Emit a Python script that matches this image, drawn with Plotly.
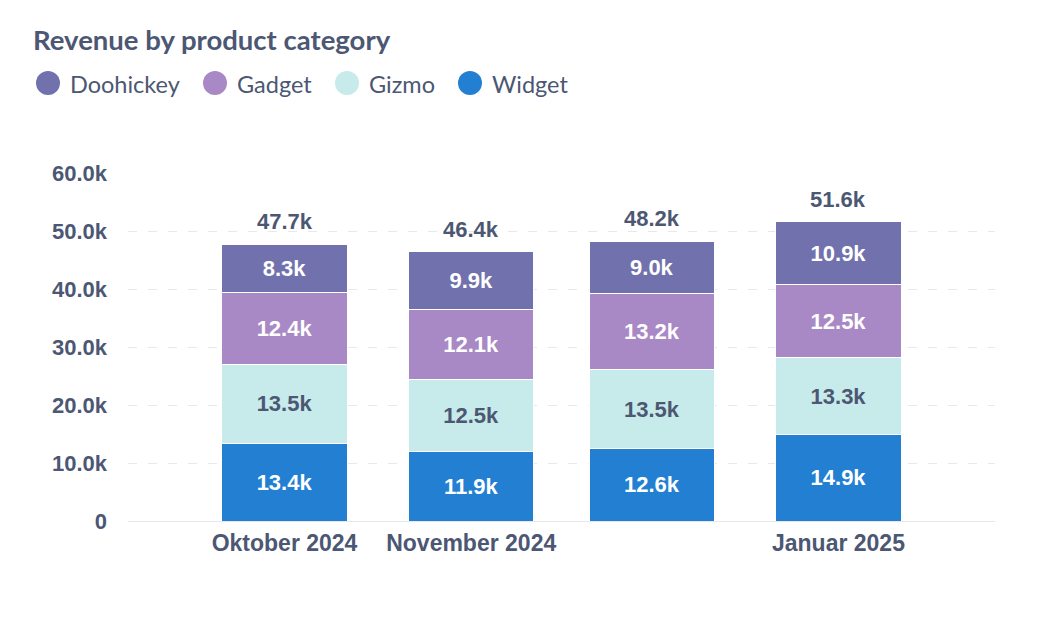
import plotly.graph_objects as go

months = ["2024-10-01", "2024-11-01", "2024-12-01", "2025-01-01"]
month_labels = ["Oktober 2024", "November 2024", "", "Januar 2025"]

widget = [13440, 11900, 12580, 14900]
gizmo = [13520, 12500, 13460, 13300]
gadget = [12420, 12100, 13170, 12500]
doohickey = [8330, 9900, 9030, 10900]

y_ticks = [0, 10000, 20000, 30000, 40000, 50000, 60000]
y_tick_labels = ["0", "10.0k", "20.0k", "30.0k", "40.0k", "50.0k", "60.0k"]

series = [
    ("Widget", widget, "#227FD2", "white"),
    ("Gizmo", gizmo, "#C7EAEA", "#4C5773"),
    ("Gadget", gadget, "#A989C5", "white"),
    ("Doohickey", doohickey, "#7172AD", "white"),
]

TEXT = "#4C5773"
DAY = 86400000
W, H = 1042, 632
ML, MR, MT, MB = 120, 55, 165, 119
PW, PH = W - ML - MR, H - MT - MB
OFF = 8  # page offset of the figure


def px(page_x):
    return (page_x - OFF - ML) / PW


def py(page_y):
    return (H - MB - (page_y - OFF)) / PH


fig = go.Figure()

for name, vals, color, tcol in series:
    fig.add_trace(go.Bar(
        x=months, y=vals, name=name,
        marker=dict(color=color, line=dict(color="white", width=1)),
        width=20.8 * DAY,
        text=[f"{v/1000:.1f}k" for v in vals],
        textposition="inside", insidetextanchor="middle",
        textfont=dict(family="Liberation Sans", size=22, color=tcol, weight="bold"),
        showlegend=False, hoverinfo="skip",
    ))

totals = [sum(t) for t in zip(widget, gizmo, gadget, doohickey)]
annotations = []
for m, t in zip(months, totals):
    annotations.append(dict(x=m, y=t, xref="x", yref="y", text=f"{t/1000:.1f}k",
                            showarrow=False, xanchor="center", yanchor="bottom", yshift=8,
                            font=dict(family="Liberation Sans", size=22, color=TEXT,
                                      weight="bold")))

# legend (circles + labels), drawn in the order Doohickey, Gadget, Gizmo, Widget
legend_circle_left = [36, 203, 335, 458]
shapes = []
for (name, vals, color, tcol), cx in zip(reversed(series), legend_circle_left):
    shapes.append(dict(type="circle", xref="paper", yref="paper",
                       x0=px(cx), x1=px(cx + 24), y0=py(95), y1=py(71),
                       fillcolor=color, line=dict(width=0)))
    annotations.append(dict(text=name, xref="paper", yref="paper",
                            x=px(cx + 32), y=py(84), xanchor="left", yanchor="middle",
                            showarrow=False,
                            font=dict(family="Lato", size=23.5, color=TEXT)))

fig.update_layout(
    width=W, height=H,
    barmode="stack",
    plot_bgcolor="white", paper_bgcolor="white",
    margin=dict(l=ML, r=MR, t=MT, b=MB),
    showlegend=False,
    shapes=shapes, annotations=annotations,
    title=dict(text="Revenue by product category", x=(33 - OFF) / W, xanchor="left",
               xref="container", yref="container", y=1 - (40 - OFF) / H, yanchor="middle",
               font=dict(family="Lato", size=27.5, color=TEXT, weight="bold")),
    xaxis=dict(type="date", range=["2024-09-05", "2025-01-27"],
               tickvals=months, ticktext=month_labels, showgrid=False,
               showline=False, zeroline=False, ticks="", ticklabelstandoff=6,
               tickfont=dict(family="Liberation Sans", size=23, color=TEXT, weight="bold")),
    yaxis=dict(range=[0, 60000], tickvals=y_ticks, ticktext=y_tick_labels,
               showgrid=True, gridcolor="#E6E8EB", griddash="9px,11px", gridwidth=1,
               zeroline=True, zerolinecolor="#E6E8EB", zerolinewidth=1,
               ticks="", ticklabelstandoff=20,
               tickfont=dict(family="Liberation Sans", size=22, color=TEXT, weight="bold")),
)

fig.write_html("out.html")
